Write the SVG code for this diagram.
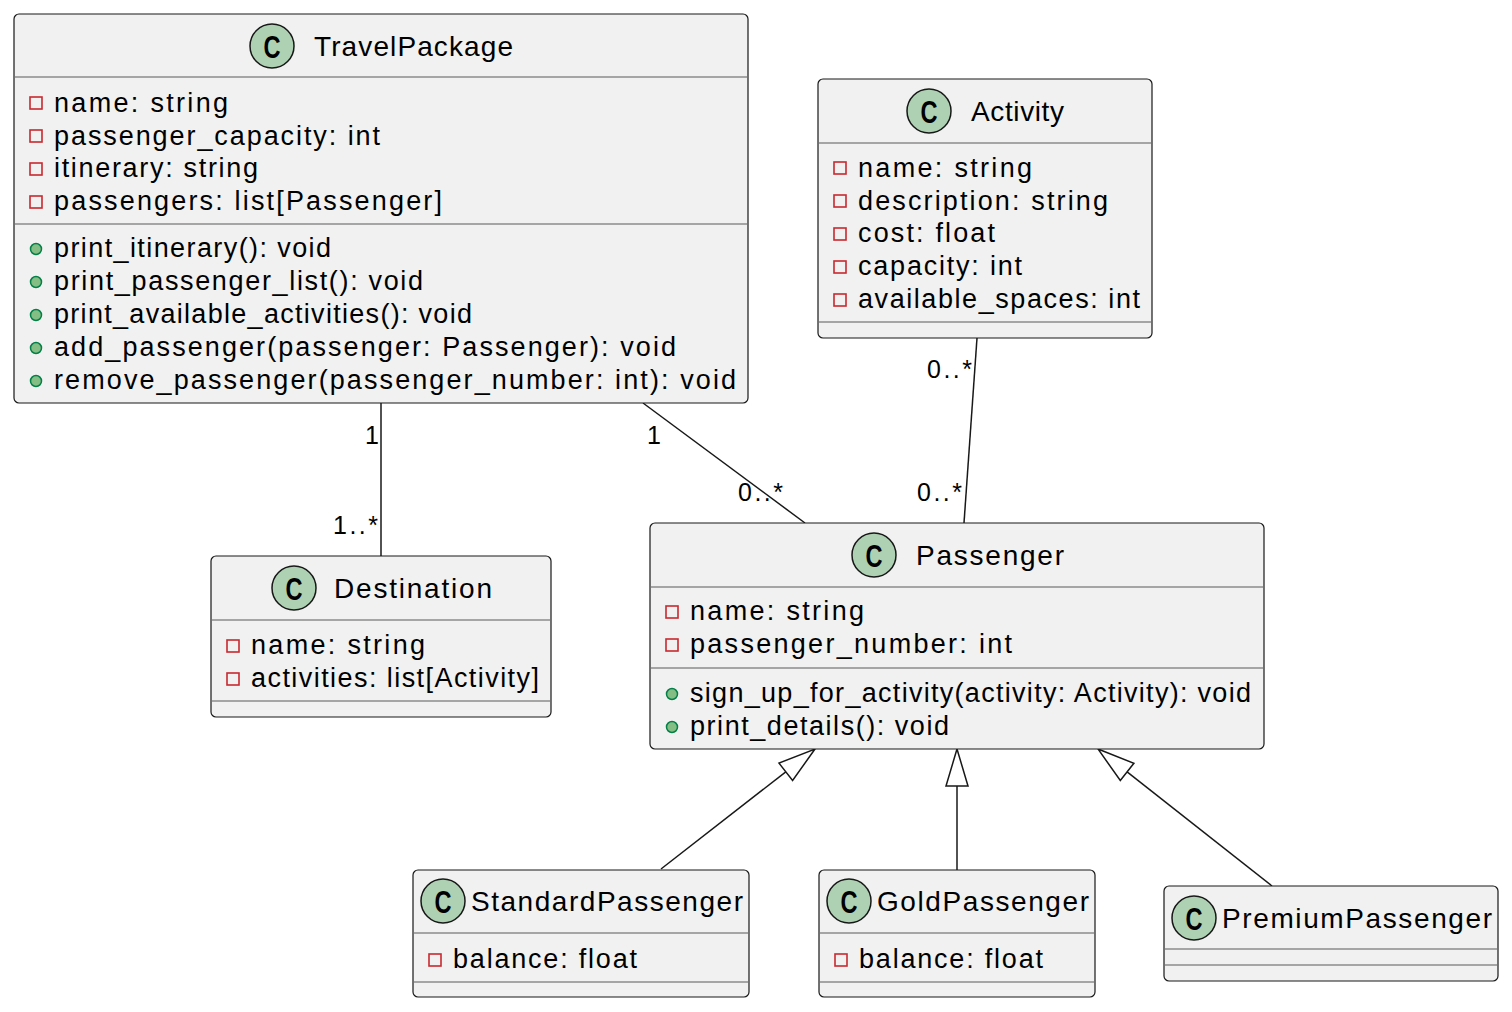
<svg xmlns="http://www.w3.org/2000/svg" width="1512" height="1012" viewBox="0 0 1512 1012">
<style>
.box{fill:#F1F1F1;stroke:#181818;stroke-width:1.2}
.sep{stroke:#5a5a5a;stroke-width:1.2}
.ic{fill:#ADD1B2;stroke:#181818;stroke-width:1.5}
.icl{font-family:"Liberation Sans",Arial,sans-serif;font-weight:bold;font-size:32px;fill:#000;text-anchor:middle}
.t{font-family:"Liberation Sans",Arial,sans-serif;font-size:28px;fill:#000}
.m{font-family:"Liberation Sans",Arial,sans-serif;font-size:27px;fill:#000}
.lbl{font-family:"Liberation Sans",Arial,sans-serif;font-size:25px;fill:#000}
.pr{fill:none;stroke:#C82930;stroke-width:1.6}
.pu{fill:#84BE84;stroke:#038048;stroke-width:1.5}
.ln{stroke:#181818;stroke-width:1.5;fill:none}
.tri{stroke:#181818;stroke-width:1.5;fill:#FFFFFF}
</style>
<rect width="1512" height="1012" fill="#FFFFFF"/>

<g id="connectors">
  <line class="ln" x1="381" y1="403" x2="381" y2="556"/>
  <text class="lbl" x="365" y="444" textLength="12">1</text>
  <text class="lbl" x="333" y="534" textLength="45">1..*</text>
  <line class="ln" x1="643" y1="403" x2="805" y2="523"/>
  <text class="lbl" x="647" y="444" textLength="12">1</text>
  <text class="lbl" x="738" y="501" textLength="45">0..*</text>
  <line class="ln" x1="977" y1="338" x2="964" y2="523"/>
  <text class="lbl" x="927" y="378" textLength="45">0..*</text>
  <text class="lbl" x="917" y="501" textLength="45">0..*</text>
  <line class="ln" x1="661" y1="869" x2="785.8" y2="771.8"/>
  <polygon class="tri" points="815,749 792.6,780.5 779,763.1"/>
  <line class="ln" x1="957" y1="870" x2="957" y2="786"/>
  <polygon class="tri" points="957,749 968,786 946,786"/>
  <line class="ln" x1="1272" y1="886" x2="1127.1" y2="771.9"/>
  <polygon class="tri" points="1098,749 1133.9,763.3 1120.3,780.5"/>
</g>

<g id="TravelPackage">
  <rect class="box" x="14" y="14" width="734" height="389" rx="5"/>
  <circle class="ic" cx="272" cy="46" r="22"/>
  <text class="icl" x="272" y="58" textLength="17" lengthAdjust="spacingAndGlyphs">C</text>
  <text class="t" x="314" y="56" textLength="199">TravelPackage</text>
  <line class="sep" x1="15" y1="77" x2="747" y2="77"/>
  <rect class="pr" x="30" y="97" width="12" height="12"/>
  <text class="m" x="54" y="112" textLength="174">name: string</text>
  <rect class="pr" x="30" y="130" width="12" height="12"/>
  <text class="m" x="54" y="145" textLength="326">passenger_capacity: int</text>
  <rect class="pr" x="30" y="163" width="12" height="12"/>
  <text class="m" x="54" y="177" textLength="204">itinerary: string</text>
  <rect class="pr" x="30" y="196" width="12" height="12"/>
  <text class="m" x="54" y="210" textLength="388">passengers: list[Passenger]</text>
  <line class="sep" x1="15" y1="224" x2="747" y2="224"/>
  <circle class="pu" cx="36" cy="249" r="5.5"/>
  <text class="m" x="54" y="257" textLength="277">print_itinerary(): void</text>
  <circle class="pu" cx="36" cy="282" r="5.5"/>
  <text class="m" x="54" y="290" textLength="369">print_passenger_list(): void</text>
  <circle class="pu" cx="36" cy="315" r="5.5"/>
  <text class="m" x="54" y="323" textLength="418">print_available_activities(): void</text>
  <circle class="pu" cx="36" cy="348" r="5.5"/>
  <text class="m" x="54" y="356" textLength="622">add_passenger(passenger: Passenger): void</text>
  <circle class="pu" cx="36" cy="381" r="5.5"/>
  <text class="m" x="54" y="389" textLength="682">remove_passenger(passenger_number: int): void</text>
</g>

<g id="Activity">
  <rect class="box" x="818" y="79" width="334" height="259" rx="5"/>
  <circle class="ic" cx="929" cy="111" r="22"/>
  <text class="icl" x="929" y="123" textLength="17" lengthAdjust="spacingAndGlyphs">C</text>
  <text class="t" x="971" y="121" textLength="93">Activity</text>
  <line class="sep" x1="819" y1="143" x2="1151" y2="143"/>
  <rect class="pr" x="834" y="162" width="12" height="12"/>
  <text class="m" x="858" y="177" textLength="174">name: string</text>
  <rect class="pr" x="834" y="195" width="12" height="12"/>
  <text class="m" x="858" y="210" textLength="250">description: string</text>
  <rect class="pr" x="834" y="228" width="12" height="12"/>
  <text class="m" x="858" y="242" textLength="137">cost: float</text>
  <rect class="pr" x="834" y="261" width="12" height="12"/>
  <text class="m" x="858" y="275" textLength="164">capacity: int</text>
  <rect class="pr" x="834" y="294" width="12" height="12"/>
  <text class="m" x="858" y="308" textLength="282">available_spaces: int</text>
  <line class="sep" x1="819" y1="322" x2="1151" y2="322"/>
</g>

<g id="Passenger">
  <rect class="box" x="650" y="523" width="614" height="226" rx="5"/>
  <circle class="ic" cx="874" cy="555" r="22"/>
  <text class="icl" x="874" y="567" textLength="17" lengthAdjust="spacingAndGlyphs">C</text>
  <text class="t" x="916" y="565" textLength="148">Passenger</text>
  <line class="sep" x1="651" y1="587" x2="1263" y2="587"/>
  <rect class="pr" x="666" y="606" width="12" height="12"/>
  <text class="m" x="690" y="620" textLength="174">name: string</text>
  <rect class="pr" x="666" y="639" width="12" height="12"/>
  <text class="m" x="690" y="653" textLength="322">passenger_number: int</text>
  <line class="sep" x1="651" y1="668" x2="1263" y2="668"/>
  <circle class="pu" cx="672" cy="694" r="5.5"/>
  <text class="m" x="690" y="702" textLength="561">sign_up_for_activity(activity: Activity): void</text>
  <circle class="pu" cx="672" cy="727" r="5.5"/>
  <text class="m" x="690" y="735" textLength="259">print_details(): void</text>
</g>

<g id="Destination">
  <rect class="box" x="211" y="556" width="340" height="161" rx="5"/>
  <circle class="ic" cx="294" cy="588" r="22"/>
  <text class="icl" x="294" y="600" textLength="17" lengthAdjust="spacingAndGlyphs">C</text>
  <text class="t" x="334" y="598" textLength="158">Destination</text>
  <line class="sep" x1="212" y1="620" x2="550" y2="620"/>
  <rect class="pr" x="227" y="640" width="12" height="12"/>
  <text class="m" x="251" y="654" textLength="174">name: string</text>
  <rect class="pr" x="227" y="673" width="12" height="12"/>
  <text class="m" x="251" y="687" textLength="288">activities: list[Activity]</text>
  <line class="sep" x1="212" y1="701" x2="550" y2="701"/>
</g>

<g id="StandardPassenger">
  <rect class="box" x="413" y="870" width="336" height="127" rx="5"/>
  <circle class="ic" cx="443" cy="901" r="22"/>
  <text class="icl" x="443" y="913" textLength="17" lengthAdjust="spacingAndGlyphs">C</text>
  <text class="t" x="471" y="911" textLength="272">StandardPassenger</text>
  <line class="sep" x1="414" y1="933" x2="748" y2="933"/>
  <rect class="pr" x="429" y="954" width="12" height="12"/>
  <text class="m" x="453" y="968" textLength="184">balance: float</text>
  <line class="sep" x1="414" y1="982" x2="748" y2="982"/>
</g>

<g id="GoldPassenger">
  <rect class="box" x="819" y="870" width="276" height="127" rx="5"/>
  <circle class="ic" cx="849" cy="901" r="22"/>
  <text class="icl" x="849" y="913" textLength="17" lengthAdjust="spacingAndGlyphs">C</text>
  <text class="t" x="877" y="911" textLength="212">GoldPassenger</text>
  <line class="sep" x1="820" y1="933" x2="1094" y2="933"/>
  <rect class="pr" x="835" y="954" width="12" height="12"/>
  <text class="m" x="859" y="968" textLength="184">balance: float</text>
  <line class="sep" x1="820" y1="982" x2="1094" y2="982"/>
</g>

<g id="PremiumPassenger">
  <rect class="box" x="1164" y="886" width="334" height="95" rx="5"/>
  <circle class="ic" cx="1194" cy="918" r="22"/>
  <text class="icl" x="1194" y="930" textLength="17" lengthAdjust="spacingAndGlyphs">C</text>
  <text class="t" x="1222" y="928" textLength="270">PremiumPassenger</text>
  <line class="sep" x1="1165" y1="949" x2="1497" y2="949"/>
  <line class="sep" x1="1165" y1="965" x2="1497" y2="965"/>
</g>
</svg>
